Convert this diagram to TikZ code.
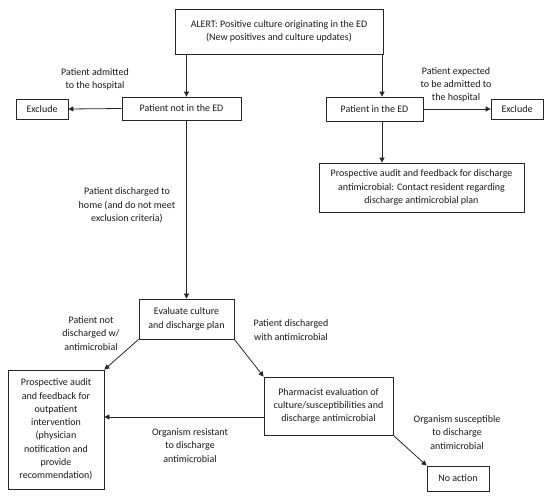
\documentclass[tikz,border=0pt]{standalone}
\usepackage{fontspec}
\setmainfont{Carlito}
\usetikzlibrary{arrows.meta}
\begin{document}
\begin{tikzpicture}[x=1pt,y=-1pt,
  box/.style={draw=black!85, line width=0.8pt, align=center, inner sep=1pt,
    font=\fontsize{10}{13.3}\selectfont, text=black!90},
  lbl/.style={align=center, inner sep=0pt, font=\fontsize{10}{13.3}\selectfont, text=black!90},
  arr/.style={draw=black!85, line width=0.8pt, -{Triangle[length=5pt,width=5pt]}}]
\useasboundingbox (0,0) rectangle (550,498);
\node[box, minimum width=208pt, minimum height=45pt] (alert) at (279,31.5)
  {ALERT: Positive culture originating in the ED\\(New positives and culture updates)};
\node[box, minimum width=119pt, minimum height=23pt] (notED) at (181.5,108.5) {Patient not in the ED};
\node[box, minimum width=52pt, minimum height=20pt] (exclL) at (42,109) {Exclude};
\node[box, minimum width=97pt, minimum height=24pt] (inED) at (374.5,109) {Patient in the ED};
\node[box, minimum width=52pt, minimum height=20pt] (exclR) at (517,109) {Exclude};
\node[box, minimum width=205pt, minimum height=49pt] (prosp) at (421.5,187.5)
  {Prospective audit and feedback for discharge\\antimicrobial: Contact resident regarding\\discharge antimicrobial plan};
\node[box, minimum width=95pt, minimum height=40pt] (eval) at (186.5,319) {Evaluate culture\\and discharge plan};
\node[box, minimum width=96pt, minimum height=119pt] (outp) at (56,429.5)
  {Prospective audit\\and feedback for\\outpatient\\intervention\\(physician\\notification and\\provide\\recommendation)};
\node[box, minimum width=129pt, minimum height=58pt] (pharm) at (328.5,406)
  {Pharmacist evaluation of\\culture/susceptibilities and\\discharge antimicrobial};
\node[box, minimum width=62pt, minimum height=25pt] (noact) at (458,478.5) {No action};

\node[lbl] (l1) at (95,79.5) {Patient admitted\\to the hospital};
\node[lbl] (l2) at (456,85) {Patient expected\\to be admitted to\\the hospital};
\node[lbl] (l3) at (127,205.5) {Patient discharged to\\home (and do not meet\\exclusion criteria)};
\node[lbl] (l4) at (91,333.5) {Patient not\\discharged w/\\antimicrobial};
\node[lbl] (l5) at (291,330) {Patient discharged\\with antimicrobial};
\node[lbl] (l6) at (190,445.5) {Organism resistant\\to discharge\\antimicrobial};
\node[lbl] (l7) at (457,432.5) {Organism susceptible\\to discharge\\antimicrobial};

\coordinate (rx) at (382,0);
\coordinate (ry) at (0,417);
\draw[arr] (alert.south -| eval.north) -- (notED.north -| eval.north);
\draw[arr] (alert.south -| rx) -- (inED.north -| rx);
\draw[arr] (notED.west) -- (exclL.east);
\draw[arr] (inED.east) -- (exclR.west);
\draw[arr] (inED.south -| rx) -- (prosp.north -| rx);
\draw[arr] (notED.south -| eval.north) -- (eval.north);
\draw[arr] (eval.south west) -- (outp.north east);
\draw[arr] (eval.south east) -- (pharm.north west);
\draw[arr] (pharm.west |- ry) -- (outp.east |- ry);
\draw[arr] (pharm.south east) -- (noact.north west);
\end{tikzpicture}
\end{document}
